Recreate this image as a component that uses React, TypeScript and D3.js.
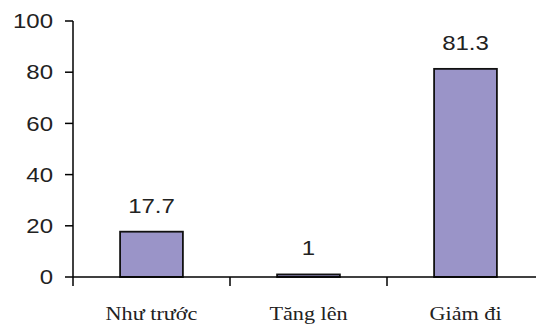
import React from "react";
import * as d3 from "d3";

const categories = ["Như trước", "Tăng lên", "Giảm đi"];
const values = [17.7, 1, 81.3];
const yTicks = [0, 20, 40, 60, 80, 100];

const W = 536;
const H = 328;
const x0 = 73;
const x1 = 544;
const yTop = 21;
const yBot = 277;
const SX = 1.2;

function SText(props: { x: number; y: number; anchor: string; family: string; size: number; dy?: string; children: any }) {
  return (
    <text
      transform={`translate(${props.x},${props.y}) scale(${SX},1)`}
      dy={props.dy}
      textAnchor={props.anchor}
      fontFamily={props.family}
      fontSize={props.size}
      fill="#222"
    >
      {props.children}
    </text>
  );
}

export default function App() {
  const x = d3.scaleBand<string>().domain(categories).range([x0, x1]).paddingInner(0).paddingOuter(0);
  const y = d3.scaleLinear().domain([0, 100]).range([yBot, yTop]);
  const bw = x.bandwidth() * 0.4;
  const sans = "'Liberation Sans', Arial, sans-serif";
  const serif = "'Liberation Serif', 'Times New Roman', serif";
  return (
    <svg width={W} height={H} style={{ position: "absolute", left: 0, top: 0, background: "#fff" }}>
      {/* y axis */}
      <line x1={x0} x2={x0} y1={y(100)} y2={yBot + 9} stroke="#000" strokeWidth={1.5} />
      {yTicks.map((t) => (
        <g key={t}>
          <line x1={x0 - 8} x2={x0} y1={y(t)} y2={y(t)} stroke="#000" strokeWidth={1.5} />
          <SText x={53} y={y(t)} dy="0.36em" anchor="end" family={sans} size={20}>
            {t}
          </SText>
        </g>
      ))}
      {/* bars */}
      {categories.map((c, i) => {
        const cx = (x(c) as number) + x.bandwidth() / 2;
        return (
          <g key={c}>
            <rect
              x={cx - bw / 2}
              y={y(values[i])}
              width={bw}
              height={yBot - y(values[i])}
              fill="#9A94C8"
              stroke="#111"
              strokeWidth={1.8}
            />
            <SText x={cx} y={y(values[i]) - 19} anchor="middle" family={sans} size={20}>
              {values[i]}
            </SText>
            <SText x={cx} y={320} anchor="middle" family={serif} size={18.5}>
              {c}
            </SText>
          </g>
        );
      })}
      {/* x axis */}
      <line x1={x0} x2={W} y1={yBot} y2={yBot} stroke="#000" strokeWidth={1.5} />
      {categories.slice(1).map((c) => (
        <line key={c} x1={x(c) as number} x2={x(c) as number} y1={yBot} y2={yBot + 9} stroke="#000" strokeWidth={1.5} />
      ))}
    </svg>
  );
}
